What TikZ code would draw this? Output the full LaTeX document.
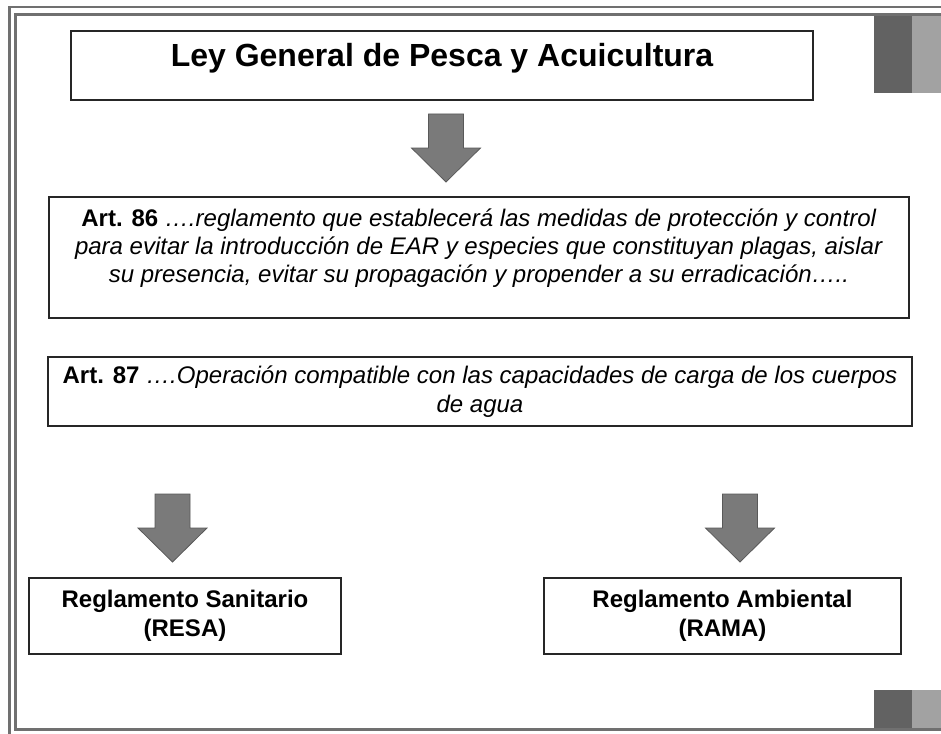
\documentclass[tikz,border=0pt]{standalone}
\usepackage{fontspec}
\setmainfont{Liberation Sans}
\usetikzlibrary{positioning}
\definecolor{marco}{RGB}{112,112,112}
\definecolor{flechagris}{RGB}{122,122,122}
\definecolor{grisoscuro}{RGB}{98,98,98}
\definecolor{grisclaro}{RGB}{162,162,162}
\tikzset{caja/.style={draw=black!85, line width=1.6pt, fill=white, inner sep=0pt,
    align=center, font=\fontsize{24}{29}\selectfont}}
\tikzset{flecha/.style={fill=flechagris, draw=black!65, line width=.8pt}}
\newcommand{\flechaabajo}[1]{%
  \path[flecha] ([shift={(-17.5,-34)}]#1) -- ([shift={(17.5,-34)}]#1)
    -- ([shift={(17.5,0)}]#1) -- ([shift={(34.5,0)}]#1) -- ([shift={(0,34)}]#1)
    -- ([shift={(-34.5,0)}]#1) -- ([shift={(-17.5,0)}]#1) -- cycle;}

\begin{document}
\begin{tikzpicture}[x=1pt, y=-1pt]
    \useasboundingbox (0,0) rectangle (941,733);
    \clip (0,0) rectangle (941,733);
    % marco doble
    \draw[marco, line width=2.5pt] (9.5,7) rectangle (960,745);
    \draw[marco, line width=3pt] (15.5,14.5) rectangle (955,729.5);
    \fill[grisoscuro] (874,16) rectangle (912,93);
    \fill[grisclaro] (912,16) rectangle (941,93);
    \fill[grisoscuro] (874,690) rectangle (912,728);
    \fill[grisclaro] (912,690) rectangle (941,728);
    \node[caja, minimum width=742pt, minimum height=69pt, text height=23pt, text depth=20pt,
      font=\fontsize{32}{38}\selectfont\bfseries] (ley) at (442,65.5)
      {Ley General de Pesca y Acuicultura};
    \node[caja, minimum width=860pt, minimum height=121pt,
      font=\fontsize{24}{28}\selectfont] (art86) at (479,257.5)
      {\textbf{Art. 86} \textit{….reglamento que establecerá las medidas de protección y control}\\
       \textit{para evitar la introducción de EAR y especies que constituyan plagas, aislar}\\
       \textit{su presencia, evitar su propagación y propender a su erradicación…..}\\[-5pt]\mbox{}};
    \node[caja, minimum width=864pt, minimum height=69pt] (art87) at (480,391.5)
      {\textbf{Art. 87} \textit{….Operación compatible con las capacidades de carga de los cuerpos}\\
       \textit{de agua}};
    \node[caja, font=\fontsize{24}{29}\selectfont\bfseries, minimum width=312pt,
      minimum height=76pt] (resa) at (185,616) {Reglamento Sanitario\\(RESA)};
    \node[caja, font=\fontsize{24}{29}\selectfont\bfseries, minimum width=357pt,
      minimum height=76pt] (rama) at (722.5,616) {Reglamento Ambiental\\(RAMA)};
    \coordinate (f1) at (446,148);
    \coordinate (f2) at (172.5,528);
    \coordinate (f3) at (740,528);
    \flechaabajo{f1}
    \flechaabajo{f2}
    \flechaabajo{f3}
\end{tikzpicture}
\end{document}
